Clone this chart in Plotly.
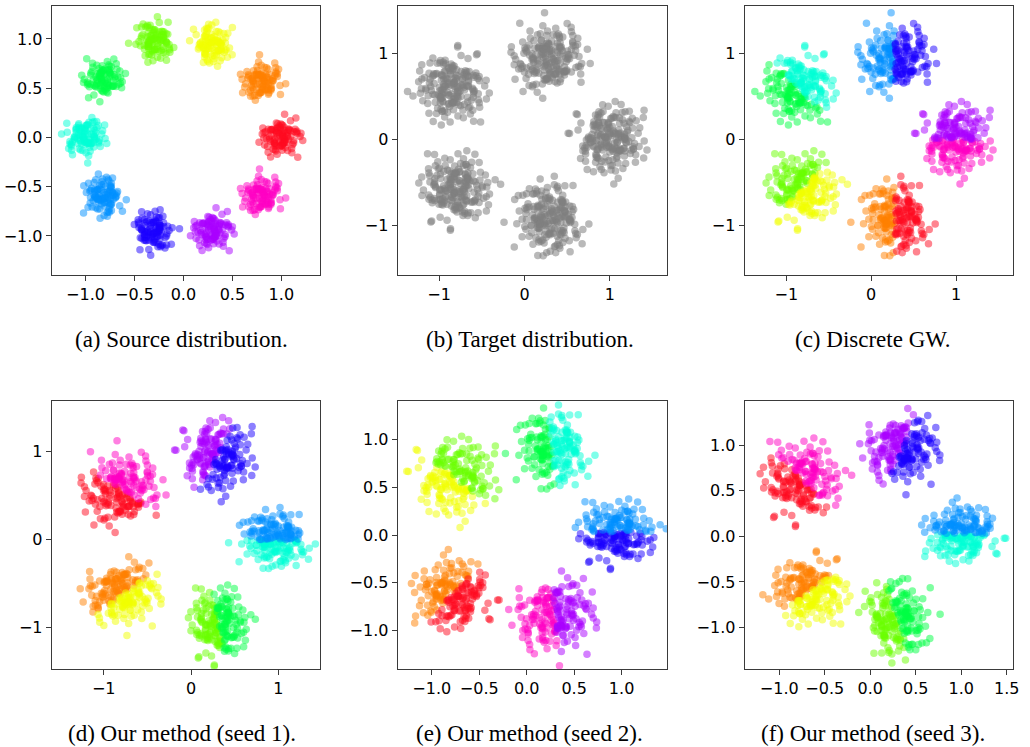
import math
import plotly.graph_objects as go

# ---- hand-typed cluster shape template (polar offsets of a typical blob, unit spread) ----
RAD = [0.62, 1.41, 0.95, 1.88, 0.33, 1.17, 2.21, 0.78, 1.29, 0.51,
       1.64, 0.88, 1.05, 0.21, 1.52, 2.47, 0.69, 1.23, 0.97, 1.76,
       0.44, 1.35, 1.98, 0.83, 1.11, 0.58, 1.47, 2.05, 0.91, 1.27,
       0.37, 1.58, 1.02, 0.74, 2.33, 1.19, 0.66, 1.43, 0.99, 1.83,
       0.27, 1.31, 0.86, 1.69, 1.08, 0.55, 1.92, 1.24, 0.47, 1.56,
       1.14, 0.81, 2.12, 0.39, 1.38, 0.93, 1.61, 0.72, 1.21, 2.61,
       0.59, 1.49, 1.03, 0.31, 1.79, 1.16, 0.85, 1.33, 2.01, 0.64,
       1.26, 0.49, 1.71, 0.96, 1.44, 0.18, 1.09, 1.87, 0.77, 1.37,
       0.68, 2.26, 1.13, 0.42, 1.54, 1.01, 0.89, 1.66, 0.53, 1.29,
       1.94, 0.75, 1.21, 0.35, 1.46, 2.39, 0.61, 1.07, 1.72, 0.84]
ANG = [17, 243, 131, 305, 68, 199, 352, 96, 274, 158,
       31, 221, 112, 339, 185, 53, 287, 140, 6, 256,
       79, 327, 170, 40, 232, 121, 296, 12, 207, 88,
       263, 148, 47, 316, 192, 101, 281, 25, 238, 164,
       59, 345, 127, 213, 75, 300, 3, 177, 250, 109,
       36, 268, 153, 330, 92, 224, 19, 195, 137, 310,
       64, 247, 116, 355, 182, 44, 276, 143, 228, 9,
       84, 321, 160, 259, 105, 28, 292, 204, 71, 336,
       134, 241, 50, 172, 313, 97, 216, 14, 283, 146,
       61, 349, 188, 124, 235, 82, 303, 167, 22, 271]

# ---- colours (hsv-like palette) ----
RED, ORANGE, YELLOW, LIME, GREEN = "#ff0a20", "#ff8000", "#f2ff00", "#6aff00", "#00ff44"
CYAN, AZURE, BLUE, VIOLET, MAGENTA = "#00ffd5", "#0090ff", "#1a00ff", "#aa00ff", "#ff00c3"
GRAY = "#808080"

# ---- (a) source distribution: 10 clusters ----
SRC_CX = [1.00, 0.80, 0.30, -0.30, -0.82, -1.00, -0.82, -0.30, 0.30, 0.80]
SRC_CY = [0.00, 0.58, 0.95, 0.98, 0.60, 0.00, -0.60, -0.95, -0.95, -0.58]
SRC_COL = [RED, ORANGE, YELLOW, LIME, GREEN, CYAN, AZURE, BLUE, VIOLET, MAGENTA]
SRC_SD = [0.10, 0.10, 0.10, 0.10, 0.10, 0.10, 0.10, 0.10, 0.10, 0.10]

# ---- (b)/(c) target distribution: 5 clusters ----
TGT_CX = [-0.85, 0.28, 1.00, 0.28, -0.80]
TGT_CY = [0.60, 0.95, 0.00, -0.92, -0.57]
TGT_SD = [0.20, 0.20, 0.20, 0.20, 0.20]
# (c) discrete GW colouring of target clusters: side split by direction
GW_NX = [0.71, 1.00, 0.00, 1.00, 0.71]
GW_NY = [0.71, 0.00, 1.00, 0.00, -0.71]
GW_NEG = [GREEN, AZURE, MAGENTA, ORANGE, LIME]
GW_POS = [CYAN, BLUE, VIOLET, RED, YELLOW]

# ---- (d) our method, seed 1 ----
S1_CX = [-0.80, 0.30, 0.95, 0.32, -0.78]
S1_CY = [0.58, 0.95, 0.00, -0.95, -0.62]
S1_SDX = [0.21, 0.20, 0.20, 0.16, 0.20]
S1_SDY = [0.21, 0.20, 0.15, 0.20, 0.18]
S1_NX = [0.54, 0.87, 0.00, 0.98, 0.60]
S1_NY = [0.84, -0.48, 1.00, 0.18, -0.80]
S1_NEG = [RED, VIOLET, CYAN, LIME, ORANGE]
S1_POS = [MAGENTA, BLUE, AZURE, GREEN, YELLOW]

# ---- (e) our method, seed 2 ----
S2_CX = [-0.75, 0.27, 0.95, 0.30, -0.78]
S2_CY = [0.60, 0.90, 0.03, -0.85, -0.62]
S2_SDX = [0.21, 0.19, 0.20, 0.20, 0.20]
S2_SDY = [0.20, 0.19, 0.16, 0.20, 0.18]
S2_NX = [0.60, 0.99, 0.00, 0.99, 0.70]
S2_NY = [0.80, 0.10, 1.00, 0.10, -0.70]
S2_NEG = [YELLOW, GREEN, BLUE, MAGENTA, ORANGE]
S2_POS = [LIME, CYAN, AZURE, VIOLET, RED]

# ---- (f) our method, seed 3 ----
S3_CX = [-0.75, 0.35, 1.00, 0.30, -0.66]
S3_CY = [0.62, 0.95, 0.03, -0.90, -0.60]
S3_SDX = [0.21, 0.19, 0.20, 0.18, 0.20]
S3_SDY = [0.21, 0.19, 0.15, 0.20, 0.18]
S3_NX = [0.70, 0.90, 0.00, 0.95, 0.60]
S3_NY = [0.70, -0.40, 1.00, 0.30, -0.80]
S3_NEG = [RED, VIOLET, CYAN, LIME, ORANGE]
S3_POS = [MAGENTA, BLUE, AZURE, GREEN, YELLOW]

CAPTIONS = ["(a) Source distribution.", "(b) Target distribution.", "(c) Discrete GW.",
            "(d) Our method (seed 1).", "(e) Our method (seed 2).", "(f) Our method (seed 3)."]


def variant(v):
    off = 45 * (v % 8)
    s = 1 if v % 2 == 0 else -1
    ox = [r * math.cos(math.radians(s * a + off)) for r, a in zip(RAD, ANG)]
    oy = [r * math.sin(math.radians(s * a + off)) for r, a in zip(RAD, ANG)]
    return ox, oy


def blob(k, cx, cy, sx, sy, nvar):
    xs, ys = [], []
    for j in range(nvar):
        ox, oy = variant(k + 3 * j)
        xs += [cx + sx * a for a in ox]
        ys += [cy + sy * b for b in oy]
    return xs, ys


fig = go.Figure()


def add_pts(xs, ys, color, ax, opacity=0.5):
    fig.add_trace(go.Scatter(
        x=xs, y=ys, mode="markers", xaxis="x" + ax, yaxis="y" + ax,
        marker=dict(size=7.5, color=color, opacity=opacity, line=dict(width=0)),
        showlegend=False, hoverinfo="skip"))


def add_split(k, cx, cy, sx, sy, nx, ny, cneg, cpos, ax):
    xs, ys = blob(k, cx, cy, sx, sy, 2)
    nxs, nys, pxs, pys = [], [], [], []
    for x, y in zip(xs, ys):
        if (x - cx) * nx + (y - cy) * ny >= 0:
            pxs.append(x); pys.append(y)
        else:
            nxs.append(x); nys.append(y)
    add_pts(nxs, nys, cneg, ax)
    add_pts(pxs, pys, cpos, ax)


# (a)
for k in range(len(SRC_CX)):
    xs, ys = blob(k, SRC_CX[k], SRC_CY[k], SRC_SD[k], SRC_SD[k], 1)
    add_pts(xs, ys, SRC_COL[k], "")
# (b)
for k in range(len(TGT_CX)):
    xs, ys = blob(k, TGT_CX[k], TGT_CY[k], TGT_SD[k], TGT_SD[k], 2)
    add_pts(xs, ys, GRAY, "2", opacity=0.55)
# (c)
for k in range(len(TGT_CX)):
    add_split(k, TGT_CX[k], TGT_CY[k], TGT_SD[k], TGT_SD[k], GW_NX[k], GW_NY[k], GW_NEG[k], GW_POS[k], "3")
# (d)
for k in range(len(S1_CX)):
    add_split(k + 1, S1_CX[k], S1_CY[k], S1_SDX[k], S1_SDY[k], S1_NX[k], S1_NY[k], S1_NEG[k], S1_POS[k], "4")
# (e)
for k in range(len(S2_CX)):
    add_split(k + 2, S2_CX[k], S2_CY[k], S2_SDX[k], S2_SDY[k], S2_NX[k], S2_NY[k], S2_NEG[k], S2_POS[k], "5")
# (f)
for k in range(len(S3_CX)):
    add_split(k + 4, S3_CX[k], S3_CY[k], S3_SDX[k], S3_SDY[k], S3_NX[k], S3_NY[k], S3_NEG[k], S3_POS[k], "6")

COL_DOM = [[0.0505, 0.3126], [0.3883, 0.6515], [0.7272, 0.9893]]
ROW_DOM = [[0.6319, 0.992], [0.1044, 0.4636]]
XRANGES = [[-1.345, 1.396], [-1.486, 1.67], [-1.49, 1.67], [-1.596, 1.478], [-1.36, 1.48], [-1.38, 1.57]]
YRANGES = [[-1.396, 1.335], [-1.58, 1.55], [-1.58, 1.55], [-1.47, 1.58], [-1.405, 1.41], [-1.454, 1.486]]
XTICKS = [[-1.0, -0.5, 0.0, 0.5, 1.0], [-1, 0, 1], [-1, 0, 1], [-1, 0, 1],
          [-1.0, -0.5, 0.0, 0.5, 1.0], [-1.0, -0.5, 0.0, 0.5, 1.0, 1.5]]
YTICKS = [[-1.0, -0.5, 0.0, 0.5, 1.0], [-1, 0, 1], [-1, 0, 1], [-1, 0, 1],
          [-1.0, -0.5, 0.0, 0.5, 1.0], [-1.0, -0.5, 0.0, 0.5, 1.0]]
FMT = [".1f", "d", "d", "d", ".1f", ".1f"]

tickfont = dict(family="DejaVu Sans", size=16, color="black")
layout = dict(width=1030, height=747, margin=dict(l=0, r=0, t=0, b=0),
              paper_bgcolor="white", plot_bgcolor="white", showlegend=False)
annotations = []
for i in range(6):
    r, c = divmod(i, 3)
    sfx = "" if i == 0 else str(i + 1)
    common = dict(showgrid=False, zeroline=False, showline=True, mirror=True,
                  linecolor="#3a3a3a", linewidth=1, ticks="outside", ticklen=5,
                  tickcolor="#3a3a3a", tickfont=tickfont)
    layout["xaxis" + sfx] = dict(domain=COL_DOM[c], range=XRANGES[i], tickvals=XTICKS[i],
                                 tickformat=FMT[i], anchor="y" + sfx, **common)
    layout["yaxis" + sfx] = dict(domain=ROW_DOM[r], range=YRANGES[i], tickvals=YTICKS[i],
                                 tickformat=FMT[i], anchor="x" + sfx, **common)
    cx_px = [183, 533, 878][c]
    cy_paper = [1 - 339 / 747, 1 - 733 / 747][r]
    annotations.append(dict(text=CAPTIONS[i], xref="paper", yref="paper", x=cx_px / 1030,
                            y=cy_paper, xanchor="center", yanchor="middle", showarrow=False,
                            font=dict(family="Liberation Serif", size=23, color="black")))
layout["annotations"] = annotations
fig.update_layout(**layout)
fig.write_html("out.html", config={"displayModeBar": False},
               post_script="document.body.style.margin='0';document.body.style.overflow='hidden';")
